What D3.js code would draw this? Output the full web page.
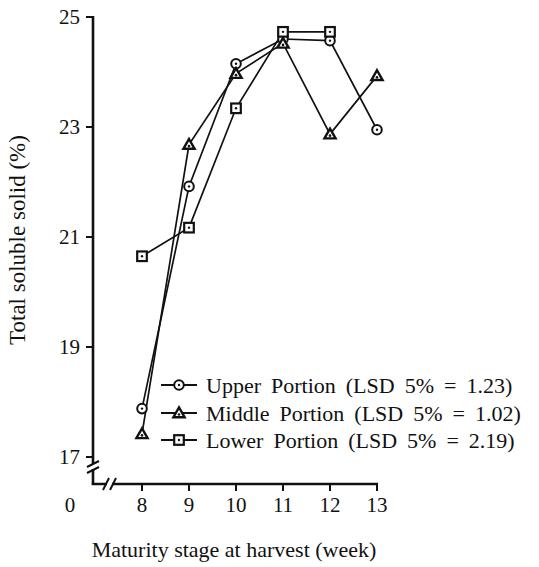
<!DOCTYPE html>
<html>
<head>
<meta charset="utf-8">
<script src="https://cdn.jsdelivr.net/npm/d3@7"></script>
<style>
  html, body { margin: 0; padding: 0; background: #fff; }
  svg text { font-family: "Liberation Serif", "Times New Roman", serif; fill: #111; }
</style>
</head>
<body>
<svg id="chart" width="539" height="567"></svg>
<script>
// ---- data ----
const weeks = [8, 9, 10, 11, 12, 13];
const upperPortion  = [17.88, 21.92, 24.15, 24.60, 24.57, 22.95];
const middlePortion = [17.42, 22.68, 23.97, 24.52, 22.87, 23.93];
const lowerPortion  = [20.65, 21.17, 23.34, 24.73, 24.73, null];
const yTicks = [17, 19, 21, 23, 25];
const xTicks = [8, 9, 10, 11, 12, 13];
const seriesNames = [
  "Upper Portion (LSD 5% = 1.23)",
  "Middle Portion (LSD 5% = 1.02)",
  "Lower Portion (LSD 5% = 2.19)"
];
const seriesShapes = ["circle", "triangle", "square"];

const svg = d3.select("#chart");
const axisX0 = 93, axisY0 = 484;
const x = d3.scaleLinear().domain([8, 13]).range([142, 377]);
const y = d3.scaleLinear().domain([17, 25]).range([457, 17]);

const ink = "#111";

// ---- axes ----
const yAxis = svg.append("g");
yAxis.append("line").attr("x1", axisX0).attr("x2", axisX0)
  .attr("y1", y(25) - 1).attr("y2", axisY0)
  .attr("stroke", ink).attr("stroke-width", 2.6);
yAxis.selectAll("line.tick").data(yTicks).enter().append("line")
  .attr("x1", axisX0 - 7).attr("x2", axisX0)
  .attr("y1", d => y(d)).attr("y2", d => y(d))
  .attr("stroke", ink).attr("stroke-width", 2);
yAxis.selectAll("text").data(yTicks).enter().append("text")
  .attr("x", 80).attr("y", d => y(d)).attr("dy", "0.35em")
  .attr("text-anchor", "end").attr("font-size", 21).text(d => d);

const xAxis = svg.append("g");
xAxis.append("line").attr("x1", axisX0 - 1.3).attr("x2", x(13) + 1)
  .attr("y1", axisY0).attr("y2", axisY0)
  .attr("stroke", ink).attr("stroke-width", 2.6);
xAxis.selectAll("line.tick").data(xTicks).enter().append("line")
  .attr("x1", d => x(d)).attr("x2", d => x(d))
  .attr("y1", axisY0).attr("y2", axisY0 + 7)
  .attr("stroke", ink).attr("stroke-width", 2);
xAxis.selectAll("text").data(xTicks).enter().append("text")
  .attr("x", d => x(d)).attr("y", 512)
  .attr("text-anchor", "middle").attr("font-size", 21).text(d => d);
svg.append("text").attr("x", 70).attr("y", 512)
  .attr("text-anchor", "middle").attr("font-size", 21).text("0");

// axis breaks
const brk = svg.append("g");
brk.append("rect").attr("x", axisX0 - 3).attr("y", 464).attr("width", 6).attr("height", 5).attr("fill", "#fff");
[464, 470].forEach(v => brk.append("line")
  .attr("x1", axisX0 - 6).attr("y1", v + 3).attr("x2", axisX0 + 6).attr("y2", v - 3)
  .attr("stroke", ink).attr("stroke-width", 2));
brk.append("rect").attr("x", 107).attr("y", axisY0 - 3).attr("width", 5).attr("height", 6).attr("fill", "#fff");
[106, 113].forEach(v => brk.append("line")
  .attr("x1", v - 3).attr("y1", axisY0 + 6).attr("x2", v + 3).attr("y2", axisY0 - 6)
  .attr("stroke", ink).attr("stroke-width", 2));

// titles
svg.append("text").attr("transform", "translate(25,240) rotate(-90)")
  .attr("text-anchor", "middle").attr("font-size", 23).text("Total soluble solid (%)");
svg.append("text").attr("x", 234).attr("y", 557)
  .attr("text-anchor", "middle").attr("font-size", 22).text("Maturity stage at harvest (week)");

// ---- series ----
function drawMarker(g, shape, cx, cy) {
  if (shape === "circle") {
    g.append("circle").attr("cx", cx).attr("cy", cy).attr("r", 4.8)
      .attr("fill", "#fff").attr("stroke", ink).attr("stroke-width", 2);
    g.append("circle").attr("cx", cx).attr("cy", cy).attr("r", 1.2).attr("fill", ink);
  } else if (shape === "triangle") {
    const s = 5.6;
    g.append("path")
      .attr("d", `M${cx},${cy - s} L${cx + s},${cy + s * 0.75} L${cx - s},${cy + s * 0.75} Z`)
      .attr("fill", "#fff").attr("stroke", ink).attr("stroke-width", 2.4).attr("stroke-linejoin", "miter");
    g.append("circle").attr("cx", cx).attr("cy", cy + 1.5).attr("r", 1.3).attr("fill", ink);
  } else {
    const s = 4.8;
    g.append("rect").attr("x", cx - s).attr("y", cy - s).attr("width", 2 * s).attr("height", 2 * s)
      .attr("fill", "#fff").attr("stroke", ink).attr("stroke-width", 2.2);
    g.append("circle").attr("cx", cx).attr("cy", cy).attr("r", 1.2).attr("fill", ink);
  }
}

const allSeries = [upperPortion, middlePortion, lowerPortion];
const line = d3.line().defined(d => d.v != null).x(d => x(d.w)).y(d => y(d.v));
const plot = svg.append("g");
allSeries.forEach((vals, i) => {
  const pts = weeks.map((w, j) => ({ w, v: vals[j] }));
  plot.append("path").datum(pts).attr("d", line)
    .attr("fill", "none").attr("stroke", ink).attr("stroke-width", 1.7);
});
allSeries.forEach((vals, i) => {
  const g = plot.append("g");
  weeks.forEach((w, j) => {
    if (vals[j] != null) drawMarker(g, seriesShapes[i], x(w), y(vals[j]));
  });
});

// ---- legend ----
const legendY = [385, 413, 440];
const lg = svg.append("g");
seriesNames.forEach((name, i) => {
  const ly = legendY[i];
  lg.append("line").attr("x1", 161).attr("x2", 197).attr("y1", ly).attr("y2", ly)
    .attr("stroke", ink).attr("stroke-width", 2);
  drawMarker(lg, seriesShapes[i], 179, ly);
  lg.append("text").attr("x", 206).attr("y", ly).attr("dy", "0.35em")
    .attr("font-size", 22).attr("word-spacing", "4.5px").text(name);
});
</script>
</body>
</html>
